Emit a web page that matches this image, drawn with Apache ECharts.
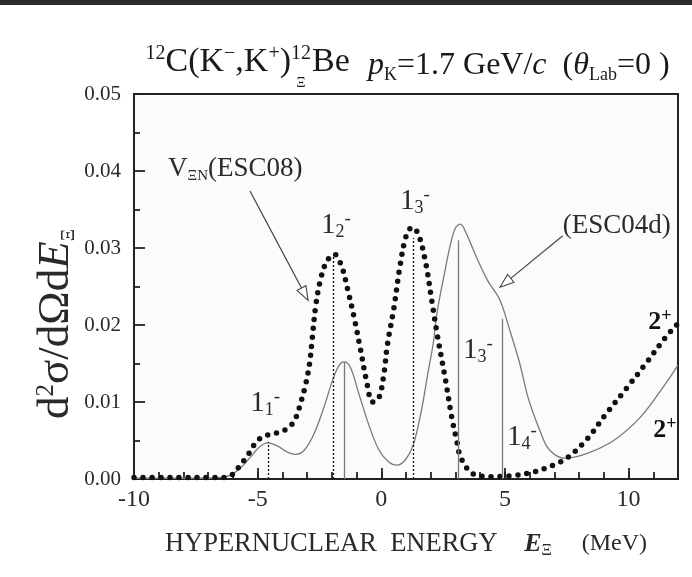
<!DOCTYPE html>
<html><head><meta charset="utf-8">
<script src="https://cdn.jsdelivr.net/npm/echarts@6/dist/echarts.min.js"></script>
<style>html,body{margin:0;padding:0;background:#fff}#c{width:692px;height:577px}</style>
</head><body><div id="c"></div>
<script>
// ---- data ----
const esc08E = [-10,-9,-8,-7,-6.5,-6.1,-5.8,-5.4,-5.0,-4.6,-4.1,-3.7,-3.45,-3.25,-3.05,-2.9,-2.8,-2.65,-2.45,-2.2,-1.9,-1.6,-1.35,-1.1,-0.85,-0.6,-0.35,-0.1,0.1,0.25,0.5,0.75,1.0,1.25,1.5,1.8,2.05,2.25,2.6,2.85,3.05,3.2,3.6,4.0,4.4,5.2,6.15,6.95,7.5,8.3,9.1,9.9,10.7,11.5,12];
const esc08V = [0.0002,0.0002,0.0002,0.0002,0.0002,0.0004,0.0014,0.0031,0.0050,0.0057,0.0061,0.0068,0.0080,0.0100,0.0124,0.0150,0.0180,0.0225,0.0260,0.0283,0.0292,0.0276,0.0245,0.0210,0.0170,0.0128,0.0100,0.0105,0.0135,0.0175,0.0220,0.0275,0.0315,0.0327,0.0318,0.0280,0.0230,0.0190,0.0128,0.0080,0.0050,0.0029,0.0009,0.0004,0.0003,0.0004,0.0009,0.0018,0.0027,0.0051,0.0085,0.0117,0.0150,0.0184,0.0202];
const esc04E = [-10,-8,-7,-6.5,-6.1,-5.7,-5.3,-4.95,-4.6,-4.2,-3.8,-3.45,-3.1,-2.7,-2.3,-1.95,-1.7,-1.5,-1.25,-0.9,-0.5,-0.1,0.3,0.65,1.0,1.3,1.6,1.9,2.1,2.25,2.5,2.8,3.0,3.2,3.45,3.85,4.3,4.8,5.2,5.6,5.9,6.15,6.45,6.7,7.0,7.4,8.3,9.4,10.5,11.5,12];
const esc04V = [0.0001,0.0001,0.0001,0.0002,0.0005,0.0014,0.0028,0.0041,0.0047,0.0043,0.0035,0.0032,0.0038,0.0060,0.0095,0.0130,0.0148,0.0152,0.0145,0.0110,0.0070,0.0038,0.0022,0.0018,0.0026,0.0045,0.0085,0.0140,0.0176,0.0215,0.0258,0.0305,0.0326,0.0331,0.0318,0.0288,0.0258,0.0232,0.0193,0.0150,0.0110,0.0085,0.0060,0.0042,0.0032,0.0027,0.0033,0.0050,0.0081,0.0124,0.0148];
const esc08StateE = [-4.57,-1.94,1.30];
const esc08StateH = [0.0048,0.0290,0.0313];
const esc04StateE = [-1.51,3.11,4.89];
const esc04StateH = [0.0152,0.0310,0.0208];
const xMajorTicks = [-10,-5,0,5,10];
const yTicks = [0,0.01,0.02,0.03,0.04,0.05];

const FONT = '"Liberation Serif","DejaVu Serif","Times New Roman",serif';
const TXT = '#2a2a2a';
const zip = (a,b)=>a.map((v,i)=>[v,b[i]]);

const chart = echarts.init(document.getElementById('c'), null, {renderer:'canvas'});

const option = {
  animation:false,
  backgroundColor:'#ffffff',
  grid:{left:134,right:14,top:94,bottom:98,show:true,borderColor:'#222',borderWidth:2,backgroundColor:'#fbfbfb'},
  xAxis:[{
    type:'value',min:-10,max:12,interval:5,
    axisLine:{onZero:false,lineStyle:{color:'#222',width:2}},
    axisTick:{show:true,inside:true,length:11,lineStyle:{color:'#222',width:1.8}},
    axisLabel:{color:TXT,fontSize:24,fontFamily:FONT,margin:9,
      formatter:v=>xMajorTicks.includes(v)?String(v):''},
    splitLine:{show:false},
    name:'{n|HYPERNUCLEAR  ENERGY    }{b|E}{sub|Ξ}{s|     (MeV)}',
    nameLocation:'middle',nameGap:50,
    nameTextStyle:{rich:{
      n:{fontFamily:FONT,fontSize:26.5,color:TXT,lineHeight:30},
      b:{fontFamily:FONT,fontSize:26,fontWeight:'bold',fontStyle:'italic',color:TXT,lineHeight:30},
      sub:{fontFamily:FONT,fontSize:16,color:TXT,verticalAlign:'bottom',lineHeight:18},
      s:{fontFamily:FONT,fontSize:24,color:TXT,lineHeight:30}
    }}
  },{
    type:'value',min:-10,max:12,interval:1,position:'bottom',
    axisLine:{show:false,onZero:false},
    axisTick:{show:true,inside:true,length:7,lineStyle:{color:'#222',width:1.8}},
    axisLabel:{show:false},splitLine:{show:false}
  }],
  yAxis:{
    type:'value',min:0,max:0.05,interval:0.01,
    axisLine:{onZero:false,lineStyle:{color:'#222',width:2}},
    axisTick:{inside:true,length:11,lineStyle:{color:'#222',width:1.8}},
    minorTick:{show:true,splitNumber:2,length:6,lineStyle:{color:'#222',width:1.8}},
    axisLabel:{color:TXT,fontSize:21,fontFamily:FONT,margin:13,formatter:v=>v.toFixed(2)},
    splitLine:{show:false},minorSplitLine:{show:false}
  },
  series:[
    {type:'line',name:'ESC04d',data:zip(esc04E,esc04V),smooth:0.35,symbol:'none',
      lineStyle:{color:'#7a7a7a',width:1.3},z:2,
      markLine:{symbol:'none',silent:true,label:{show:false},
        lineStyle:{color:'#7a7a7a',width:1.3,type:'solid'},
        data:esc04StateE.map((e,i)=>[{coord:[e,0]},{coord:[e,esc04StateH[i]]}])}},
    {type:'line',name:'ESC08',data:zip(esc08E,esc08V),smooth:0.35,symbol:'none',
      lineStyle:{color:'#111',width:5.5,type:[0,9],cap:'round'},z:3,
      markLine:{symbol:'none',silent:true,label:{show:false},
        lineStyle:{color:'#111',width:1.3,type:[2,2]},
        data:esc08StateE.map((e,i)=>[{coord:[e,0]},{coord:[e,esc08StateH[i]]}])}}
  ]
};
chart.setOption(option);

function px(x,y){return chart.convertToPixel({gridIndex:0},[x,y]);}
const R = {
  m:{fontFamily:FONT,fontSize:29,fill:TXT,lineHeight:32},
  b:{fontFamily:FONT,fontSize:26,fontWeight:'bold',fill:'#111',lineHeight:30},
  sub:{fontFamily:FONT,fontSize:18,fill:TXT,verticalAlign:'bottom',lineHeight:17},
  sup:{fontFamily:FONT,fontSize:19,fill:TXT,verticalAlign:'top',lineHeight:18},
  bsup:{fontFamily:FONT,fontSize:18,fontWeight:'bold',fill:'#111',verticalAlign:'top',lineHeight:17},
  n:{fontFamily:FONT,fontSize:27,fill:TXT,lineHeight:30},
  vsub:{fontFamily:FONT,fontSize:15,fill:TXT,verticalAlign:'bottom',lineHeight:15}
};
function label(text,x,y,align){
  const p=px(x,y);
  return {type:'text',x:p[0],y:p[1],z:10,style:{text:text,rich:R,align:align||'center',verticalAlign:'middle'}};
}
function arrow(x0,y0,x1,y1){
  const a=px(x0,y0), b=px(x1,y1);
  const dx=b[0]-a[0], dy=b[1]-a[1], L=Math.hypot(dx,dy), ux=dx/L, uy=dy/L;
  const hl=14, hw=5;
  const bx=b[0]-ux*hl, by=b[1]-uy*hl;
  return [
    {type:'line',z:10,shape:{x1:a[0],y1:a[1],x2:bx,y2:by},style:{stroke:'#444',lineWidth:1.2}},
    {type:'polygon',z:10,shape:{points:[[b[0],b[1]],[bx-uy*hw,by+ux*hw],[bx+uy*hw,by-ux*hw]]},
      style:{fill:'#fff',stroke:'#444',lineWidth:1.1}}
  ];
}
const TR = {
  m:{fontFamily:FONT,fontSize:34,fill:'#1a1a1a',lineHeight:36},
  sup:{fontFamily:FONT,fontSize:20,fill:'#1a1a1a',verticalAlign:'top',lineHeight:20},
  n:{fontFamily:FONT,fontSize:32,fill:'#1a1a1a',lineHeight:36},
  i:{fontFamily:FONT,fontSize:32,fontStyle:'italic',fill:'#1a1a1a',lineHeight:36},
  sub:{fontFamily:FONT,fontSize:18,fill:'#1a1a1a',verticalAlign:'bottom',lineHeight:17}
};
const YR = {
  n:{fontFamily:FONT,fontSize:45,fill:TXT,lineHeight:45},
  i:{fontFamily:FONT,fontSize:45,fontStyle:'italic',fill:TXT,lineHeight:45},
  sup:{fontFamily:FONT,fontSize:25,fill:TXT,verticalAlign:'top',lineHeight:25},
  sub:{fontFamily:FONT,fontSize:19,fill:TXT,verticalAlign:'bottom',lineHeight:19}
};
const graphics = [
  {type:'rect',shape:{x:0,y:0,width:692,height:5},style:{fill:'#2b2b2b'},z:20},
  {type:'text',x:311,y:62,z:10,style:{text:'{sup|12}{m|C(K}{sup|−}{m|,K}{sup|+}{m|)}{sup|12}',rich:TR,align:'right',verticalAlign:'middle'}},
  {type:'text',x:301,y:83,z:10,style:{text:'Ξ',fontFamily:FONT,fontSize:14,fill:'#1a1a1a',align:'center',verticalAlign:'middle'}},
  {type:'text',x:312,y:62,z:10,style:{text:'{m|Be}',rich:TR,align:'left',verticalAlign:'middle'}},
  {type:'text',x:368,y:66,z:10,style:{text:'{i|p}{sub|K}{n|=1.7 GeV/}{i|c}{n|  (}{i|θ}{sub|Lab}{n|=0 )}',rich:TR,align:'left',verticalAlign:'middle'}},
  {type:'text',x:56,y:324,rotation:Math.PI/2,z:10,style:{text:'{n|d}{sup|2}{n|σ/dΩd}{i|E}{sub|Ξ}',rich:YR,align:'center',verticalAlign:'middle'}},
  label('{m|1}{sub|1}{sup|-}',-4.7,0.0098),
  label('{m|1}{sub|2}{sup|-}',-1.83,0.0329),
  label('{m|1}{sub|3}{sup|-}',1.36,0.0361),
  label('{m|1}{sub|3}{sup|-}',3.91,0.0167),
  label('{m|1}{sub|4}{sup|-}',5.69,0.0054),
  label('{n|V}{vsub|ΞN}{n|(ESC08)}',-8.62,0.0403,'left'),
  label('{n|(ESC04d)}',7.34,0.0329,'left'),
  label('{b|2}{bsup|+}',11.27,0.0203),
  label('{b|2}{bsup|+}',11.47,0.0063)
].concat(arrow(-5.31,0.0374,-2.96,0.0232), arrow(7.34,0.0316,4.80,0.0249));
chart.setOption({graphic:graphics});
</script>
</body></html>
